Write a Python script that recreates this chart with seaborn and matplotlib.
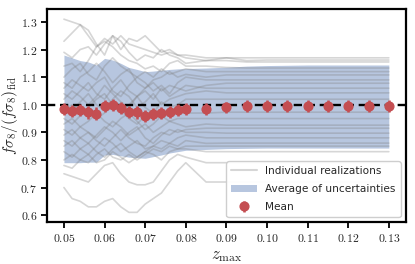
import numpy as np
import pandas as pd
import seaborn as sns
import matplotlib
matplotlib.use("Agg")
import matplotlib.pyplot as plt
from matplotlib.lines import Line2D
from matplotlib.patches import Patch
from matplotlib.ticker import FuncFormatter

# ---------------- data ----------------
zmax = [0.050, 0.052, 0.054, 0.056, 0.058, 0.060, 0.062, 0.064, 0.066, 0.068,
        0.070, 0.072, 0.074, 0.076, 0.078, 0.080, 0.085, 0.090, 0.095, 0.100,
        0.105, 0.110, 0.115, 0.120, 0.125, 0.130]

mean_vals = [0.985, 0.978, 0.980, 0.972, 0.968, 0.995, 0.998, 0.988, 0.975, 0.972,
             0.960, 0.965, 0.970, 0.973, 0.980, 0.985, 0.985, 0.990, 0.995, 0.995,
             0.995, 0.995, 0.995, 0.995, 0.995, 0.995]
mean_err = [0.022, 0.022, 0.022, 0.022, 0.022, 0.022, 0.022, 0.022, 0.022, 0.022,
            0.022, 0.022, 0.022, 0.022, 0.022, 0.022, 0.021, 0.021, 0.021, 0.021,
            0.021, 0.021, 0.021, 0.021, 0.021, 0.021]

band_upper = [1.180, 1.170, 1.160, 1.155, 1.144, 1.168, 1.162, 1.150, 1.135, 1.128,
              1.120, 1.122, 1.125, 1.128, 1.130, 1.131, 1.133, 1.136, 1.140, 1.142,
              1.143, 1.144, 1.144, 1.144, 1.144, 1.144]
band_lower = [0.790, 0.790, 0.790, 0.792, 0.792, 0.818, 0.820, 0.815, 0.810, 0.808,
              0.806, 0.812, 0.818, 0.825, 0.830, 0.835, 0.838, 0.841, 0.842, 0.843,
              0.843, 0.843, 0.843, 0.843, 0.843, 0.843]

r01 = [1.31, 1.30, 1.29, 1.25, 1.21, 1.24, 1.22, 1.25, 1.22, 1.21, 1.20, 1.19, 1.18, 1.19, 1.18, 1.18, 1.17, 1.17, 1.17, 1.17, 1.17, 1.17, 1.17, 1.17, 1.17, 1.17]
r02 = [1.23, 1.26, 1.29, 1.27, 1.22, 1.18, 1.25, 1.20, 1.24, 1.23, 1.25, 1.22, 1.19, 1.20, 1.18, 1.17, 1.16, 1.17, 1.16, 1.162, 1.162, 1.162, 1.162, 1.162, 1.162, 1.162]
r03 = [1.19, 1.17, 1.20, 1.21, 1.18, 1.22, 1.25, 1.23, 1.19, 1.16, 1.18, 1.17, 1.20, 1.18, 1.17, 1.15, 1.16, 1.16, 1.155, 1.155, 1.155, 1.155, 1.155, 1.155, 1.155, 1.155]
r04 = [1.14, 1.15, 1.12, 1.16, 1.21, 1.23, 1.21, 1.18, 1.16, 1.15, 1.13, 1.14, 1.12, 1.15, 1.16, 1.14, 1.14, 1.135, 1.133, 1.133, 1.133, 1.133, 1.133, 1.133, 1.133, 1.133]
r05 = [1.10, 1.13, 1.15, 1.11, 1.09, 1.14, 1.17, 1.14, 1.12, 1.10, 1.12, 1.10, 1.13, 1.11, 1.12, 1.13, 1.12, 1.12, 1.12, 1.12, 1.12, 1.12, 1.12, 1.12, 1.12, 1.12]
r06 = [1.08, 1.06, 1.10, 1.12, 1.15, 1.12, 1.08, 1.11, 1.13, 1.08, 1.06, 1.09, 1.10, 1.12, 1.10, 1.11, 1.10, 1.108, 1.108, 1.108, 1.108, 1.108, 1.108, 1.108, 1.108, 1.108]
r07 = [1.06, 1.09, 1.07, 1.05, 1.08, 1.10, 1.05, 1.03, 1.07, 1.10, 1.08, 1.05, 1.07, 1.04, 1.08, 1.10, 1.09, 1.09, 1.09, 1.09, 1.09, 1.09, 1.09, 1.09, 1.09, 1.09]
r08 = [1.04, 1.02, 1.05, 1.08, 1.04, 1.02, 1.06, 1.09, 1.05, 1.03, 1.06, 1.08, 1.05, 1.07, 1.06, 1.05, 1.07, 1.078, 1.078, 1.078, 1.078, 1.078, 1.078, 1.078, 1.078, 1.078]
r09 = [1.02, 1.05, 1.03, 1.00, 1.03, 1.07, 1.04, 1.01, 0.99, 1.03, 1.05, 1.02, 1.06, 1.03, 1.05, 1.07, 1.06, 1.06, 1.06, 1.06, 1.06, 1.06, 1.06, 1.06, 1.06, 1.06]
r10 = [1.00, 0.98, 1.01, 1.04, 1.00, 0.98, 1.02, 1.05, 1.03, 0.99, 1.01, 1.04, 1.00, 1.02, 1.03, 1.04, 1.05, 1.043, 1.043, 1.043, 1.043, 1.043, 1.043, 1.043, 1.043, 1.043]
r11 = [0.98, 1.00, 0.97, 0.99, 1.02, 1.04, 1.00, 0.97, 1.00, 1.03, 0.99, 0.97, 1.01, 0.99, 1.00, 1.02, 1.02, 1.02, 1.02, 1.02, 1.02, 1.02, 1.02, 1.02, 1.02, 1.02]
r12 = [0.95, 0.93, 0.96, 0.98, 0.95, 0.97, 1.00, 0.98, 0.95, 0.93, 0.96, 0.98, 0.95, 0.97, 0.98, 0.97, 0.97, 0.973, 0.973, 0.973, 0.973, 0.973, 0.973, 0.973, 0.973, 0.973]
r13 = [0.93, 0.95, 0.92, 0.94, 0.97, 0.94, 0.92, 0.95, 0.97, 0.94, 0.91, 0.93, 0.96, 0.94, 0.95, 0.95, 0.95, 0.95, 0.95, 0.95, 0.95, 0.95, 0.95, 0.95, 0.95, 0.95]
r14 = [0.91, 0.89, 0.92, 0.90, 0.88, 0.91, 0.94, 0.92, 0.89, 0.91, 0.93, 0.90, 0.92, 0.94, 0.93, 0.92, 0.93, 0.926, 0.926, 0.926, 0.926, 0.926, 0.926, 0.926, 0.926, 0.926]
r15 = [0.89, 0.91, 0.88, 0.86, 0.89, 0.92, 0.90, 0.87, 0.90, 0.92, 0.88, 0.86, 0.89, 0.91, 0.90, 0.91, 0.915, 0.915, 0.915, 0.915, 0.915, 0.915, 0.915, 0.915, 0.915, 0.915]
r16 = [0.87, 0.85, 0.88, 0.90, 0.87, 0.85, 0.88, 0.91, 0.88, 0.86, 0.85, 0.88, 0.90, 0.89, 0.91, 0.90, 0.90, 0.897, 0.897, 0.897, 0.897, 0.897, 0.897, 0.897, 0.897, 0.897]
r17 = [0.85, 0.87, 0.84, 0.82, 0.85, 0.88, 0.86, 0.83, 0.85, 0.87, 0.84, 0.85, 0.87, 0.86, 0.88, 0.89, 0.88, 0.88, 0.88, 0.88, 0.88, 0.88, 0.88, 0.88, 0.88, 0.88]
r18 = [0.83, 0.81, 0.84, 0.86, 0.83, 0.81, 0.84, 0.86, 0.83, 0.81, 0.83, 0.85, 0.84, 0.86, 0.85, 0.87, 0.86, 0.861, 0.861, 0.861, 0.861, 0.861, 0.861, 0.861, 0.861, 0.861]
r19 = [0.80, 0.82, 0.80, 0.79, 0.82, 0.84, 0.81, 0.80, 0.82, 0.80, 0.82, 0.84, 0.83, 0.85, 0.84, 0.85, 0.85, 0.85, 0.85, 0.85, 0.85, 0.85, 0.85, 0.85, 0.85, 0.85]
r20 = [0.78, 0.77, 0.80, 0.82, 0.79, 0.80, 0.83, 0.81, 0.79, 0.81, 0.83, 0.82, 0.80, 0.83, 0.84, 0.84, 0.83, 0.83, 0.83, 0.83, 0.83, 0.83, 0.83, 0.83, 0.83, 0.83]
r21 = [0.75, 0.74, 0.73, 0.72, 0.75, 0.78, 0.79, 0.75, 0.72, 0.71, 0.71, 0.72, 0.76, 0.80, 0.82, 0.81, 0.79, 0.79, 0.79, 0.79, 0.79, 0.79, 0.79, 0.79, 0.79, 0.79]
r22 = [0.70, 0.66, 0.65, 0.63, 0.63, 0.65, 0.66, 0.63, 0.61, 0.61, 0.64, 0.66, 0.68, 0.72, 0.76, 0.79, 0.72, 0.72, 0.72, 0.72, 0.72, 0.72, 0.72, 0.72, 0.72, 0.72]

realizations = [r01, r02, r03, r04, r05, r06, r07, r08, r09, r10, r11,
                r12, r13, r14, r15, r16, r17, r18, r19, r20, r21, r22]

labels = ["Individual realizations", "Average of uncertainties", "Mean"]

# ---------------- style ----------------
sns.set_theme(style="ticks")
plt.rcParams["font.family"] = ["DejaVu Sans"]
plt.rcParams["mathtext.fontset"] = "cm"

blue = sns.color_palette("deep")[0]
red = sns.color_palette("deep")[3]

fig = plt.figure(figsize=(4.15, 2.64), dpi=100)
ax = fig.add_axes([0.113, 0.159, 0.865, 0.807])

rows = []
for i, r in enumerate(realizations):
    for z, v in zip(zmax, r):
        rows.append({"zmax": z, "val": v, "real": i})
df = pd.DataFrame(rows)

ax.fill_between(zmax, band_lower, band_upper, color=blue, alpha=0.4, lw=0, zorder=1)
sns.lineplot(data=df, x="zmax", y="val", units="real", estimator=None,
             color="gray", alpha=0.32, lw=1.2, ax=ax, legend=False, zorder=2)
ax.axhline(1.0, color="black", ls="--", lw=1.7, zorder=3, dashes=(3.5, 2.0))
eb = ax.errorbar(zmax, mean_vals, yerr=mean_err, fmt="o", color=red, ms=6.3,
                 elinewidth=1.8, capsize=0, zorder=4)

ax.set_ylim(0.575, 1.347)
ax.set_xlim(0.0458, 0.1342)
ax.set_xticks([0.05, 0.06, 0.07, 0.08, 0.09, 0.10, 0.11, 0.12, 0.13])
ax.set_yticks([0.6, 0.7, 0.8, 0.9, 1.0, 1.1, 1.2, 1.3])
ax.xaxis.set_major_formatter(FuncFormatter(lambda v, p: r"$%.2f$" % v))
ax.yaxis.set_major_formatter(FuncFormatter(lambda v, p: r"$%.1f$" % v))
ax.tick_params(axis="both", labelsize=8.5, length=4, width=1.3, pad=3, color="black")

for s in ax.spines.values():
    s.set_linewidth(1.6)
    s.set_color("black")

ax.set_xlabel(r"$z_{\rm max}$", fontsize=12, labelpad=1)
ax.set_ylabel(r"$f\sigma_8/(f\sigma_8)_{\rm fid}$", fontsize=11)
ax.yaxis.set_label_coords(-0.076, 0.5)

handles = [Line2D([], [], color="gray", alpha=0.32, lw=1.5),
           Patch(facecolor=blue, alpha=0.4, edgecolor="none"),
           eb]
ax.legend(handles, labels, loc="lower right", fontsize=7.6, framealpha=0.95,
          handlelength=2.45, labelspacing=0.75, borderpad=0.45,
          borderaxespad=0.5, fancybox=True)

fig.savefig("out.png", dpi=100)
